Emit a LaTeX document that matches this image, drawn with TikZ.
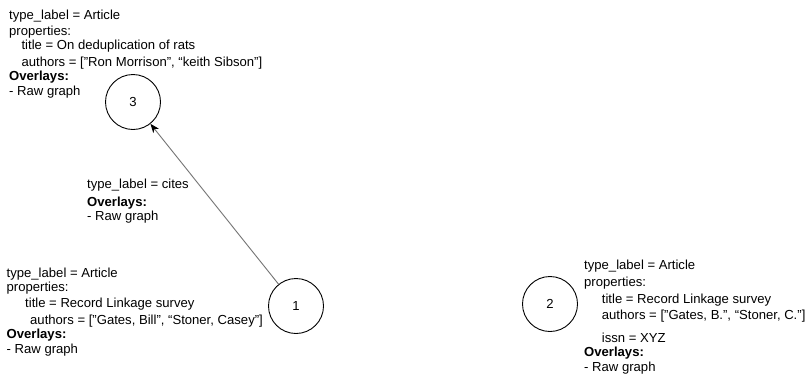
\documentclass[tikz,border=0pt]{standalone}
\usepackage{fontspec}
\setmainfont{Liberation Sans}
\usetikzlibrary{arrows.meta}
\begin{document}
\begin{tikzpicture}[x=1pt,y=-1pt,
  txt/.style={font=\fontsize{13.1}{15}\selectfont},
  vertex/.style={circle,draw,line width=0.9pt,minimum size=55pt,inner sep=0pt,txt},
  % blocks are placed by the baseline of their last line
  info/.style={anchor=base west,align=left,inner sep=0pt,txt},
  link/.style={draw=black!55,line width=0.9pt,-{Stealth[black,length=9pt,width=7pt,inset=2.5pt]}}]
\useasboundingbox (0,0) rectangle (808,373);

% vertices
\node[vertex] (v3) at (133,102) {3};
\node[vertex] (v1) at (296,306) {1};
\node[vertex] (v2) at (550,304) {2};

% citation edge
\draw[link] (v1) -- (v3);

% property blocks
\node[info] (p3) at (9,95.4) {type\_label = Article\\[0.7pt]
properties:\\[-0.7pt]
\hspace*{12.4pt}title = On deduplication of rats\\[1.7pt]
\hspace*{12.4pt}authors = [''Ron Morrison'', ``keith Sibson'']\\[-0.7pt]
\textbf{Overlays:}\\[-0.3pt]
- Raw graph};

\node[info] (pe) at (87,220.4) {type\_label = cites\\[3.4pt]
\textbf{Overlays:}\\[-1pt]
- Raw graph};

\node[info] (p1) at (6.5,353) {type\_label = Article\\[-1pt]
properties:\\[1pt]
\hspace*{18.5pt}title = Record Linkage survey\\[1.6pt]
\hspace*{23.5pt}authors = [''Gates, Bill'', ``Stoner, Casey'']\\[-0.3pt]
\textbf{Overlays:}\\[-0.7pt]
- Raw graph};

\node[info] (p2) at (584,371.4) {type\_label = Article\\[1.7pt]
properties:\\[1.6pt]
\hspace*{17.7pt}title = Record Linkage survey\\[1.7pt]
\hspace*{17.7pt}authors = [''Gates, B.'', ``Stoner, C.'']\\[7.3pt]
\hspace*{17.7pt}issn = XYZ\\[-0.6pt]
\textbf{Overlays:}\\
- Raw graph};
\end{tikzpicture}
\end{document}
